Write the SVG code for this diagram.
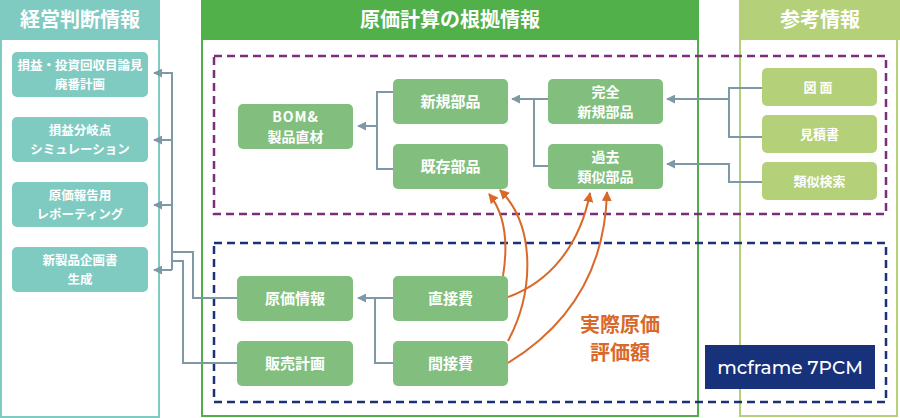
<svg xmlns="http://www.w3.org/2000/svg" width="900" height="418" viewBox="0 0 900 418">
<defs>
<marker id="ag" viewBox="0 0 10 10" refX="9" refY="5" markerWidth="9" markerHeight="9" markerUnits="userSpaceOnUse" orient="auto"><path d="M0,0 L10,5 L0,10 Z" fill="#7f98a6"/></marker>
<marker id="ao" viewBox="0 0 10 10" refX="9" refY="5" markerWidth="10" markerHeight="10" markerUnits="userSpaceOnUse" orient="auto"><path d="M0,0 L10,5 L0,10 Z" fill="#d9692a"/></marker>
</defs>
<style>
text{font-family:"Noto Sans CJK JP","Noto Sans",sans-serif;font-weight:700;fill:#fff;text-anchor:middle}
.hd{font-size:20px}
.lb rect{fill:#80cbc1}
.lb text{font-size:12.5px}
.mn rect{fill:#82bf7f}
.mn text{font-size:15px}
.mn text.t2{font-size:14px}
.rn rect{fill:#b4d17a}
.rn text{font-size:13px}
.cn{fill:none;stroke:#7f98a6;stroke-width:2}
.or{fill:none;stroke:#d9692a;stroke-width:2}
</style>
<rect width="900" height="418" fill="#fff"/>
<g id="panel-left">
<rect x="1" y="1" width="158" height="416" fill="none" stroke="#80cbc1" stroke-width="2"/>
<rect x="0" y="0" width="160" height="40" fill="#80cbc1"/>
<text class="hd" x="80" y="27">経営判断情報</text>
</g>
<g id="panel-mid">
<rect x="202" y="1" width="496" height="415" fill="none" stroke="#52b04a" stroke-width="2"/>
<rect x="201" y="0" width="498" height="40" fill="#52b04a"/>
<text class="hd" x="450" y="27">原価計算の根拠情報</text>
</g>
<g id="panel-right">
<rect x="740" y="1" width="157" height="415" fill="none" stroke="#b4d17a" stroke-width="2"/>
<rect x="739" y="0" width="161" height="40" fill="#b4d17a"/>
<text class="hd" x="820" y="27">参考情報</text>
</g>
<g id="zones">
<rect x="214" y="56" width="672" height="158" fill="none" stroke="#7b2e7b" stroke-width="2.5" stroke-dasharray="8,5"/>
<rect x="214" y="243" width="672" height="159" fill="none" stroke="#1a3278" stroke-width="2.5" stroke-dasharray="8,5"/>
</g>
<g id="connectors">
<polyline class="cn" points="172,270 172,73 154,73" marker-end="url(#ag)"/>
<polyline class="cn" points="172,140 154,140" marker-end="url(#ag)"/>
<polyline class="cn" points="172,205 154,205" marker-end="url(#ag)"/>
<polyline class="cn" points="172,270 154,270" marker-end="url(#ag)"/>
<polyline class="cn" points="237,298 193,298 193,252 172,252"/>
<polyline class="cn" points="237,363 183,363 183,261 172,261"/>
<polyline class="cn" points="393,92 377,92 377,169 393,169"/>
<polyline class="cn" points="377,126 358,126" marker-end="url(#ag)"/>
<polyline class="cn" points="548,99 534,99 534,166 548,166"/>
<polyline class="cn" points="534,99 512,99" marker-end="url(#ag)"/>
<polyline class="cn" points="762,88 729,88 729,137 762,137"/>
<polyline class="cn" points="729,99 667,99" marker-end="url(#ag)"/>
<polyline class="cn" points="762,182 729,182 729,164 667,164" marker-end="url(#ag)"/>
<polyline class="cn" points="393,298 375,298 375,363 393,363"/>
<polyline class="cn" points="375,298 358,298" marker-end="url(#ag)"/>
<path class="or" d="M503,276 C508,245 506,215 489,194" marker-end="url(#ao)"/>
<path class="or" d="M508,341 C535,290 535,225 500,190" marker-end="url(#ao)"/>
<path class="or" d="M508,297 C550,282 580,245 590,193" marker-end="url(#ao)"/>
<path class="or" d="M508,363 C570,325 605,270 607,192" marker-end="url(#ao)"/>
</g>
<g id="n-sonneki" class="lb"><rect x="12" y="52" width="136" height="45" rx="5"/><text x="80" y="70">損益・投資回収目論見</text><text x="80" y="88.5">廃番計画</text></g>
<g id="n-bunki" class="lb"><rect x="12" y="117" width="136" height="45" rx="5"/><text x="80" y="135">損益分岐点</text><text x="80" y="153.5">シミュレーション</text></g>
<g id="n-houkoku" class="lb"><rect x="12" y="182" width="136" height="45" rx="5"/><text x="80" y="200">原価報告用</text><text x="80" y="218.5">レポーティング</text></g>
<g id="n-kikaku" class="lb"><rect x="12" y="247" width="136" height="45" rx="5"/><text x="80" y="265">新製品企画書</text><text x="80" y="283.5">生成</text></g>
<g id="n-bom" class="mn"><rect x="238" y="104" width="115" height="45" rx="5"/><text class="t2" x="295.5" y="122" style="letter-spacing:1px">BOM&amp;</text><text class="t2" x="295.5" y="142">製品直材</text></g>
<g id="n-shinki" class="mn"><rect x="393" y="79" width="115" height="45" rx="5"/><text x="450.5" y="107">新規部品</text></g>
<g id="n-kison" class="mn"><rect x="393" y="144" width="115" height="45" rx="5"/><text x="450.5" y="172">既存部品</text></g>
<g id="n-kanzen" class="mn"><rect x="548" y="79" width="115" height="45" rx="5"/><text class="t2" x="605.5" y="97">完全</text><text class="t2" x="605.5" y="117">新規部品</text></g>
<g id="n-kako" class="mn"><rect x="548" y="144" width="115" height="45" rx="5"/><text class="t2" x="605.5" y="162">過去</text><text class="t2" x="605.5" y="182">類似部品</text></g>
<g id="n-genka" class="mn"><rect x="237" y="276" width="116" height="45" rx="5"/><text x="295" y="304">原価情報</text></g>
<g id="n-hanbai" class="mn"><rect x="237" y="341" width="116" height="45" rx="5"/><text x="295" y="369">販売計画</text></g>
<g id="n-chokusetsu" class="mn"><rect x="393" y="276" width="115" height="45" rx="5"/><text x="450.5" y="304">直接費</text></g>
<g id="n-kansetsu" class="mn"><rect x="393" y="341" width="115" height="45" rx="5"/><text x="450.5" y="369">間接費</text></g>
<g id="n-zumen" class="rn"><rect x="762" y="68" width="115" height="38" rx="5"/><text x="819.5" y="92" style="letter-spacing:3px">図面</text></g>
<g id="n-mitsumori" class="rn"><rect x="762" y="115" width="115" height="38" rx="5"/><text x="819.5" y="139">見積書</text></g>
<g id="n-ruiji" class="rn"><rect x="762" y="162" width="115" height="38" rx="5"/><text x="819.5" y="186">類似検索</text></g>
<g id="label-jissai">
<text x="620" y="332" style="fill:#d9692a;font-size:20px">実際原価</text>
<text x="620" y="360" style="fill:#d9692a;font-size:20px">評価額</text>
</g>
<g id="n-mcframe">
<rect x="705" y="345" width="170" height="44" fill="#17317a"/>
<text x="790" y="374" style="font-family:Montserrat,'Open Sans',sans-serif;font-weight:500;font-size:18.5px">mcframe 7PCM</text>
</g>
</svg>
